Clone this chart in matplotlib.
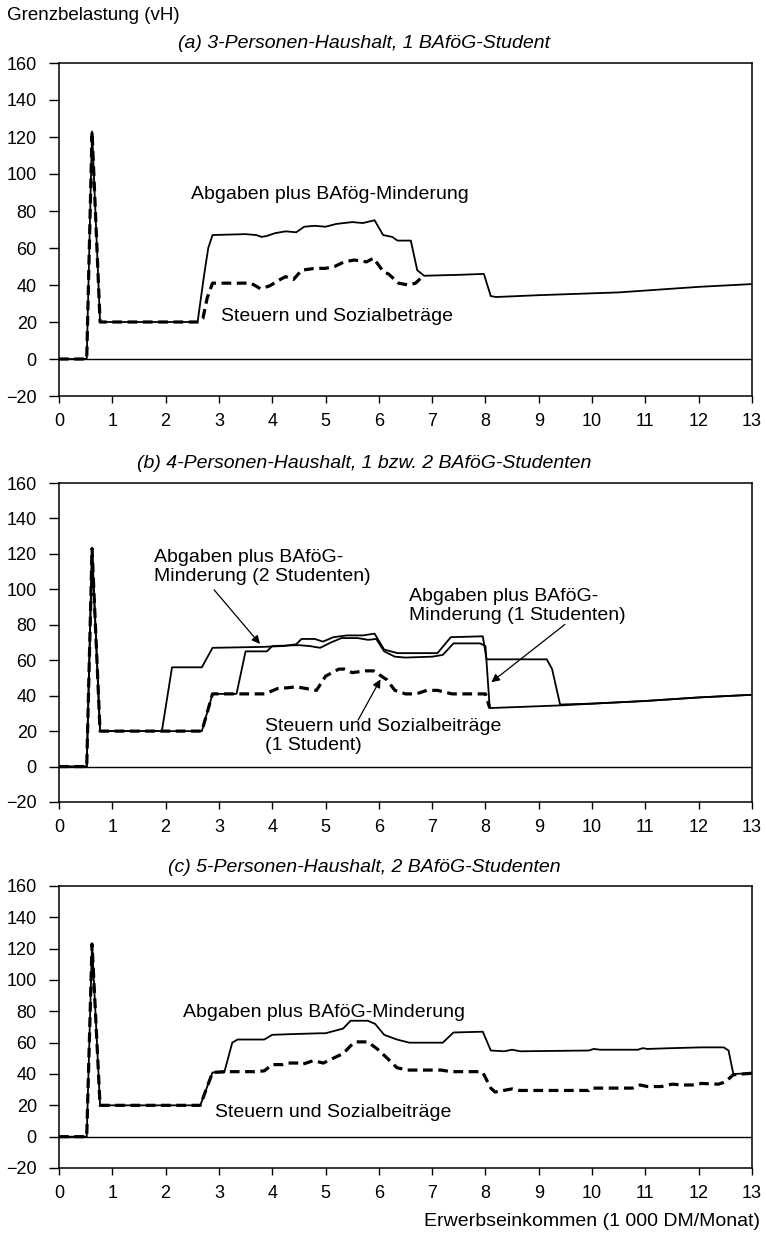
import matplotlib.pyplot as plt

plt.rcParams['font.family'] = ['Liberation Sans', 'DejaVu Sans']
plt.rcParams['lines.scale_dashes'] = False

# (a) 3-Personen-Haushalt
a_abg_x = [0, 0.52, 0.62, 0.77, 2.6, 2.72, 2.8, 2.88, 3.5, 3.7, 3.8, 3.9, 4.05, 4.25, 4.45, 4.6, 4.8, 5.0, 5.2,
           5.5, 5.7, 5.92, 6.08, 6.25, 6.35, 6.6, 6.72, 6.85, 7.5, 7.97, 8.1, 8.2, 9.0, 10.0, 10.5, 11.0, 12.0, 13.0]
a_abg_y = [0, 0, 123, 20, 20, 45, 60, 67, 67.5, 67, 66, 66.5, 68, 69, 68.5, 71.5, 72, 71.5, 73,
           74, 73.5, 75, 67, 66, 64, 64, 48, 45, 45.5, 46, 34, 33.5, 34.5, 35.5, 36, 37, 39, 40.5]
a_st_x = [0, 0.52, 0.62, 0.77, 2.62, 2.7, 2.78, 2.88, 3.6, 3.78, 3.95, 4.15, 4.25, 4.4, 4.55, 4.8, 5.0, 5.17,
          5.35, 5.54, 5.77, 5.9, 6.09, 6.18, 6.37, 6.55, 6.69, 6.83]
a_st_y = [0, 0, 123, 20, 20, 22, 33, 41, 41, 38, 39.5, 43, 44.5, 43, 48, 49, 49, 50,
          52.5, 53.5, 52.5, 54.5, 47, 46, 41, 40, 41, 45]

# (b) 4-Personen-Haushalt
b_abg2_x = [0, 0.52, 0.62, 0.77, 1.93, 2.12, 2.68, 2.88, 3.8, 4.2, 4.45, 4.55, 4.8, 4.95, 5.15, 5.4, 5.7, 5.92,
            6.1, 6.35, 7.1, 7.35, 7.95, 8.02, 9.15, 9.25, 9.4, 10.0, 11.0, 12.0, 13.0]
b_abg2_y = [0, 0, 123, 20, 20, 56, 56, 67, 67.5, 68, 69, 72, 72, 70.5, 73, 74, 74, 75,
            66, 64, 64, 73, 73.5, 60.5, 60.5, 55, 35, 35.5, 37, 39, 40.5]
b_abg1_x = [0, 0.52, 0.62, 0.77, 2.68, 2.88, 3.33, 3.5, 3.9, 4.0, 4.5, 4.7, 4.9, 5.1, 5.3, 5.6, 5.8, 5.95,
            6.1, 6.3, 6.5, 7.0, 7.2, 7.4, 7.9, 8.0, 8.08, 9.4, 10.0, 11.0, 12.0, 13.0]
b_abg1_y = [0, 0, 123, 20, 20, 41, 41, 65, 65, 68, 68.5, 68, 67, 70, 72.5, 72.5, 71.5, 72,
            65, 62, 61.5, 62, 63, 69.5, 69.5, 68, 33, 34.5, 35.5, 37, 39, 40.5]
b_st_x = [0, 0.52, 0.62, 0.77, 2.68, 2.88, 3.86, 4.1, 4.3, 4.45, 4.83, 5.0, 5.25, 5.35, 5.5, 5.75, 5.9,
          6.15, 6.3, 6.5, 6.7, 6.9, 7.1, 7.37, 7.87, 8.0, 8.08]
b_st_y = [0, 0, 123, 20, 20, 41, 41, 44, 44.5, 45, 43, 51, 55, 55, 53, 54, 54,
          49, 43, 41, 41, 43, 43, 41, 41, 41, 33]

# (c) 5-Personen-Haushalt
c_abg_x = [0, 0.52, 0.62, 0.77, 2.65, 2.88, 3.1, 3.25, 3.35, 3.85, 4.0, 4.4, 4.9, 5.0, 5.33, 5.47, 5.79, 5.93,
           6.1, 6.34, 6.57, 7.2, 7.4, 7.95, 8.1, 8.35, 8.5, 8.65, 9.94, 10.03, 10.15, 10.86, 10.95, 11.04,
           11.5, 12.05, 12.47, 12.56, 12.65, 13.0]
c_abg_y = [0, 0, 123, 20, 20, 41, 41, 60, 62, 62, 65, 65.5, 66, 66, 69, 74, 74, 72,
           65, 62, 60, 60, 66.5, 67, 55, 54.5, 55.5, 54.5, 55, 56, 55.5, 55.5, 56.5, 56,
           56.5, 57, 57, 55, 40, 40.5]
c_st_x = [0, 0.52, 0.62, 0.77, 2.65, 2.88, 3.1, 3.67, 3.85, 4.0, 4.2, 4.3, 4.5, 4.55, 4.77, 4.96, 5.14, 5.33,
          5.47, 5.56, 5.79, 5.97, 6.16, 6.34, 6.53, 7.17, 7.35, 7.9, 7.95, 8.1, 8.18, 8.5, 8.64, 9.94,
          9.98, 10.76, 10.9, 11.04, 11.3, 11.5, 11.7, 11.96, 12.05, 12.37, 12.5, 12.65, 13.0]
c_st_y = [0, 0, 123, 20, 20, 41, 41.5, 41.5, 42, 46, 46, 47, 47, 46, 48.5, 47, 50, 53,
          58, 60.5, 60.5, 56, 50, 44, 42.5, 42.5, 41.5, 41.5, 41, 31, 28.5, 30.5, 29.5, 29.5,
          31, 31, 33, 32, 32, 33.5, 33, 33, 34, 33.5, 35, 39.5, 40.5]

W, H = 766, 1234
fig = plt.figure(figsize=(W / 100, H / 100), dpi=100)


def make_axes(top, bottom):
    ax = fig.add_axes([59 / W, 1 - bottom / H, (752 - 59) / W, (bottom - top) / H])
    ax.set_xlim(0, 13)
    ax.set_ylim(-20, 160)
    ax.set_xticks(range(0, 14))
    ax.set_yticks(range(-20, 161, 20))
    ax.tick_params(axis='y', direction='out', length=7, width=1, pad=9, labelsize=13)
    ax.tick_params(axis='x', direction='out', length=5, width=1, pad=7, labelsize=13)
    for s in ax.spines.values():
        s.set_linewidth(1.1)
    ax.axhline(0, color='black', lw=1)
    return ax


dash = dict(color='black', lw=2.3, ls=(0, (7, 4)))
solid = dict(color='black', lw=1.3)
txt = dict(fontsize=14, va='center', ha='left')
arrow = dict(arrowstyle='-|>', color='black', lw=0.9, mutation_scale=12, shrinkA=0, shrinkB=0)

# Panel (a)
ax = make_axes(63, 396)
ax.plot(a_st_x, a_st_y, **dash)
ax.plot(a_abg_x, a_abg_y, **solid)
ax.text(2.47, 89, 'Abgaben plus BAfög-Minderung', **txt)
ax.text(3.03, 23, 'Steuern und Sozialbeträge', **txt)

# Panel (b)
ax = make_axes(483, 802)
ax.plot(b_st_x, b_st_y, **dash)
ax.plot(b_abg2_x, b_abg2_y, **solid)
ax.plot(b_abg1_x, b_abg1_y, **solid)
ax.text(1.79, 112.5, 'Abgaben plus BAföG-\nMinderung (2 Studenten)', linespacing=1.15, **txt)
ax.text(6.57, 90.7, 'Abgaben plus BAföG-\nMinderung (1 Studenten)', linespacing=1.15, **txt)
ax.text(3.86, 17.5, 'Steuern und Sozialbeiträge\n(1 Student)', linespacing=1.15, **txt)
ax.annotate('', xy=(3.77, 69.2), xytext=(2.91, 99.7), arrowprops=arrow)
ax.annotate('', xy=(8.11, 47.6), xytext=(9.49, 80.2), arrowprops=arrow)
ax.annotate('', xy=(6.03, 49.2), xytext=(5.61, 26.2), arrowprops=arrow)

# Panel (c)
ax = make_axes(886, 1168)
ax.plot(c_st_x, c_st_y, **dash)
ax.plot(c_abg_x, c_abg_y, **solid)
ax.text(2.33, 79.5, 'Abgaben plus BAföG-Minderung', **txt)
ax.text(2.93, 15.3, 'Steuern und Sozialbeiträge', **txt)

# Titel und Achsenbeschriftungen
fig.text(7 / W, 1 - 15 / H, 'Grenzbelastung (vH)', fontsize=13.5, va='center', ha='left')
fig.text(364 / W, 1 - 44 / H, '(a) 3-Personen-Haushalt, 1 BAföG-Student', fontsize=14, style='italic',
         ha='center', va='center')
fig.text(364 / W, 1 - 464 / H, '(b) 4-Personen-Haushalt, 1 bzw. 2 BAföG-Studenten', fontsize=14,
         style='italic', ha='center', va='center')
fig.text(364 / W, 1 - 868 / H, '(c) 5-Personen-Haushalt, 2 BAföG-Studenten', fontsize=14, style='italic',
         ha='center', va='center')
fig.text(760 / W, 1 - 1222 / H, 'Erwerbseinkommen (1 000 DM/Monat)', fontsize=14, ha='right', va='center')

fig.savefig('out.png', dpi=100)
